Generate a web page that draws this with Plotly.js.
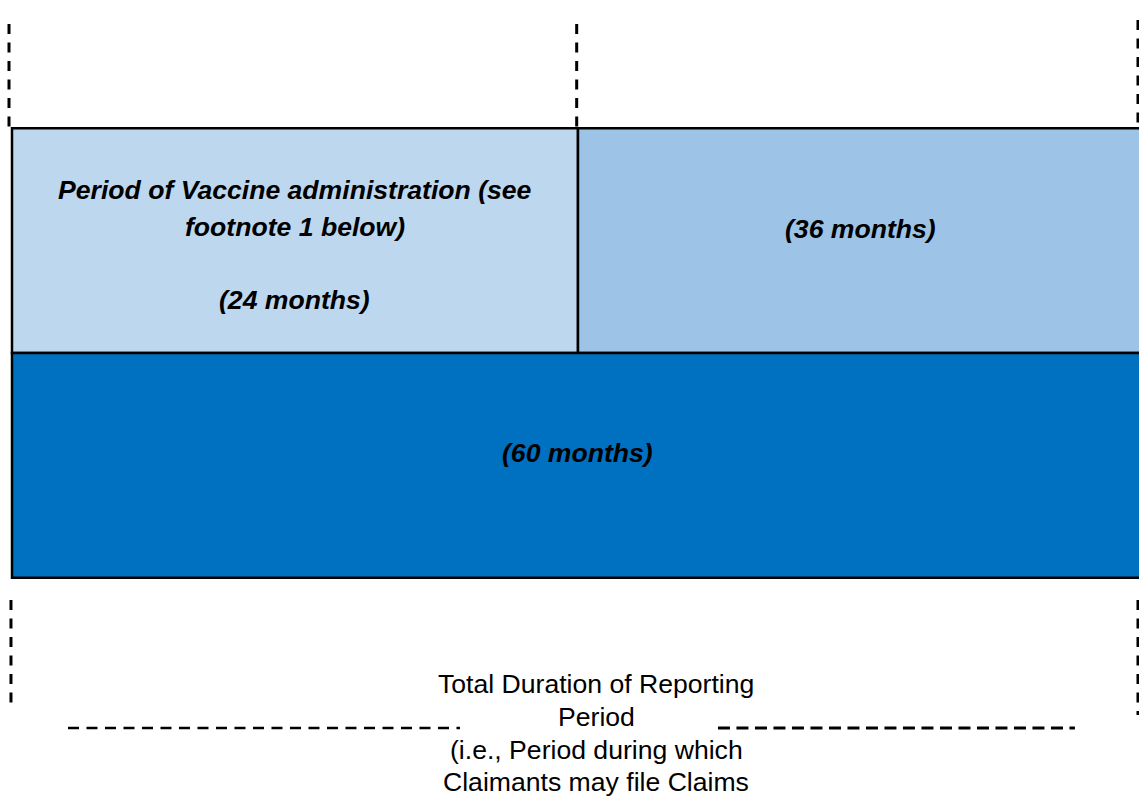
<!DOCTYPE html>
<html>
<head>
<meta charset="utf-8">
<script src="https://cdn.plot.ly/plotly-3.0.1.min.js"></script>
<style>html,body{margin:0;padding:0;background:#fff;}#chart{width:1139px;height:796px;}</style>
</head>
<body>
<div id="chart"></div>
<script>
// ---- data ----
const segNames   = ['Vaccine administration', 'Remaining period', 'Total reporting period'];
const segMonths  = [24, 36, 60];
const segRow     = [1, 1, 0];            // 1 = top row, 0 = bottom row
const segStart   = [0, 1, 0];            // schematic units (diagram is not to scale)
const segSpan    = [1, 1, 2];
const segColors  = ['#BDD7EE', '#9DC3E6', '#0070C0'];
const vaccineLines = ['Period of Vaccine administration (see', 'footnote 1 below)'];
const bottomLines  = ['Total Duration of Reporting', 'Period', '(i.e., Period during which', 'Claimants may file Claims'];

const traces = segNames.map((n, i) => ({
  type: 'bar', orientation: 'h', name: n,
  y: [segRow[i]], x: [segSpan[i]], base: [segStart[i]], width: [1],
  marker: {color: segColors[i], line: {color: '#000', width: 2.5}},
  hoverinfo: 'skip', showlegend: false
}));

const boldIt = {family: 'Liberation Sans, Arial, sans-serif', size: 26.6, color: '#000', weight: 'bold', style: 'italic'};
const reg = {family: 'Liberation Sans, Arial, sans-serif', size: 26.6, color: '#000'};

const ann = [];
function a(x, y, text, font) {
  ann.push({x: x, y: y, xref: 'x', yref: 'y', text: text, showarrow: false, font: font, xanchor: 'center', yanchor: 'middle'});
}
a(0.5, 1.2251, vaccineLines[0], boldIt);
a(0.5, 1.0605, vaccineLines[1], boldIt);
a(0.5, 0.7358, '(' + segMonths[0] + ' months)', boldIt);
a(1.5, 1.0516, '(' + segMonths[1] + ' months)', boldIt);
a(1.0, 0.0552, '(' + segMonths[2] + ' months)', boldIt);
const bottomY = [-0.9724, -1.1192, -1.266, -1.4085];
bottomLines.forEach((t, i) => a(1.032, bottomY[i], t, reg));

const dashV = {color: '#000', width: 3, dash: '10px,8.5px'};
function vline(x, y0, y1) {
  return {type: 'line', xref: 'x', yref: 'y', x0: x, x1: x, y0: y0, y1: y1, line: dashV};
}
const shapes = [
  vline(-0.0053, 1.9635, 1.5),
  vline(0.9977, 1.9635, 1.5),
  vline(1.9894, 1.9813, 1.5),
  vline(-0.0018, -0.5988, -1.057),
  vline(1.9894, -0.5988, -1.110),
  {type: 'line', xref: 'x', yref: 'y', x0: 0.0989, x1: 0.7915, y0: -1.168, y1: -1.168, line: {color: '#000', width: 2.5, dash: '11px,7.5px'}},
  {type: 'line', xref: 'x', yref: 'y', x0: 1.2473, x1: 1.878, y0: -1.168, y1: -1.168, line: {color: '#000', width: 3.2, dash: '12px,6.5px'}}
];

const ax = {showgrid: false, zeroline: false, showticklabels: false, showline: false, ticks: '', fixedrange: true};
const layout = {
  width: 1139, height: 796,
  margin: {l: 0, r: 0, t: 0, b: 0, pad: 0},
  paper_bgcolor: '#fff', plot_bgcolor: '#fff',
  barmode: 'overlay', bargap: 0,
  xaxis: Object.assign({range: [-0.0212, 1.9912]}, ax),
  yaxis: Object.assign({range: [-1.4706, 2.0703]}, ax),
  annotations: ann, shapes: shapes, showlegend: false
};
Plotly.newPlot('chart', traces, layout, {displayModeBar: false, staticPlot: true});
</script>
</body>
</html>
